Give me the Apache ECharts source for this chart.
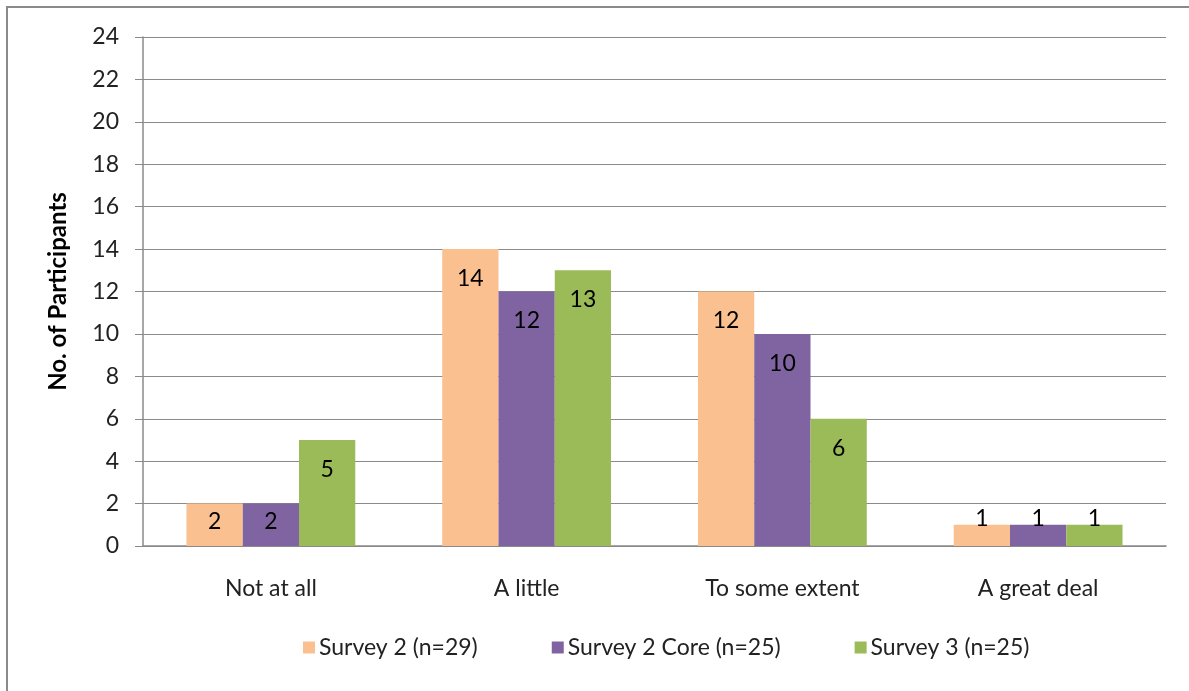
<!DOCTYPE html>
<html>
<head>
<meta charset="utf-8">
<script src="https://cdn.jsdelivr.net/npm/echarts@6/dist/echarts.min.js"></script>
<style>
html,body{margin:0;padding:0;background:#fff;}
#frame{position:absolute;left:6px;top:6px;width:1183px;height:685px;border-left:2px solid #8a8a8a;border-top:2px solid #8a8a8a;box-sizing:border-box;}
#chart{position:absolute;left:0;top:0;width:1189px;height:691px;}
</style>
</head>
<body>
<div id="frame"></div>
<div id="chart"></div>
<script>
var categories = ["Not at all", "A little", "To some extent", "A great deal"];
var seriesNames = ["Survey 2 (n=29)", "Survey 2 Core (n=25)", "Survey 3 (n=25)"];
var survey2 = [2, 14, 12, 1];
var survey2Core = [2, 12, 10, 1];
var survey3 = [5, 13, 6, 1];
var colors = ["#FAC090", "#8064A2", "#9BBB59"];

var FONT = "Lato";

function mkData(arr) {
  return arr.map(function (v) {
    var lab;
    if (v <= 1) lab = { position: 'top', distance: -5 };
    else if (v <= 2) lab = { position: 'insideTop', distance: 6 };
    else lab = { position: 'insideTop', distance: 18 };
    return { value: v, label: lab };
  });
}

var allSeries = [survey2, survey2Core, survey3].map(function (arr, i) {
  return {
    name: seriesNames[i],
    type: 'bar',
    data: mkData(arr),
    barWidth: '22%',
    barGap: '0%',
    itemStyle: { color: colors[i] },
    label: {
      show: true,
      color: '#000',
      fontFamily: FONT,
      fontSize: 23
    }
  };
});

var chart = echarts.init(document.getElementById('chart'));
chart.setOption({
  animation: false,
  backgroundColor: 'transparent',
  grid: { left: 143, right: 23, top: 37, bottom: 145 },
  legend: {
    bottom: 27,
    left: 298,
    itemWidth: 12,
    itemHeight: 12,
    itemGap: 74,
    icon: 'rect',
    textStyle: { fontFamily: FONT, fontSize: 23, color: '#222', padding: [0, 0, 0, -1] },
    data: seriesNames
  },
  xAxis: {
    type: 'category',
    data: categories,
    axisLine: { lineStyle: { color: '#8a8a8a', width: 1.5 } },
    axisTick: { show: false },
    axisLabel: { fontFamily: FONT, fontSize: 23, color: '#222', margin: 31 }
  },
  yAxis: {
    type: 'value',
    min: 0,
    max: 24,
    interval: 2,
    name: 'No. of Participants',
    nameLocation: 'middle',
    nameGap: 73,
    nameRotate: 90,
    nameTextStyle: { fontFamily: FONT, fontSize: 24, fontWeight: 'bold', color: '#000' },
    axisLine: { show: true, lineStyle: { color: '#8a8a8a', width: 1.5 } },
    axisTick: { show: true, length: 8, lineStyle: { color: '#8a8a8a' } },
    axisLabel: { fontFamily: FONT, fontSize: 23, color: '#222', margin: 24 },
    splitLine: { lineStyle: { color: '#8a8a8a', width: 1.2 } }
  },
  series: allSeries
});
</script>
</body>
</html>
